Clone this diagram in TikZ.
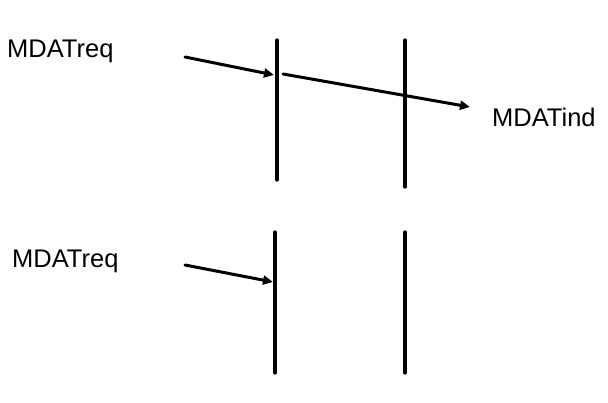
\documentclass[tikz,border=0pt]{standalone}
\usepackage{fontspec}
\setmainfont{Liberation Sans}
\usetikzlibrary{arrows.meta}
\begin{document}
\begin{tikzpicture}[x=1pt,y=-1pt,
  life/.style={line width=3.3pt,line cap=round},
  msg/.style={line width=3pt,line cap=round,-{Triangle[length=10pt,width=9pt]}},
  lbl/.style={font=\fontsize{25.5}{28}\selectfont,anchor=base west,inner sep=0pt}]
\useasboundingbox (0,0) rectangle (608,403);
\coordinate (a1) at (277,40); \coordinate (a2) at (277,180);
\coordinate (b1) at (405,40); \coordinate (b2) at (405,187);
\coordinate (c1) at (275,232); \coordinate (c2) at (275,373);
\coordinate (d1) at (405,232); \coordinate (d2) at (405,373);
\draw[life] (a1) -- (a2);
\draw[life] (b1) -- (b2);
\draw[life] (c1) -- (c2);
\draw[life] (d1) -- (d2);
\node[lbl] (t1) at (7,58) {MDATreq};
\node[lbl] (t2) at (492,127) {MDATind};
\node[lbl] (t3) at (12,268) {MDATreq};
\coordinate (s1) at (185,57); \coordinate (e1) at (274,75);
\coordinate (s2) at (283,74); \coordinate (e2) at (470,107);
\coordinate (s3) at (185,265); \coordinate (e3) at (273,282);
\draw[msg] (s1) -- (e1);
\draw[msg] (s2) -- (e2);
\draw[msg] (s3) -- (e3);
\end{tikzpicture}
\end{document}
